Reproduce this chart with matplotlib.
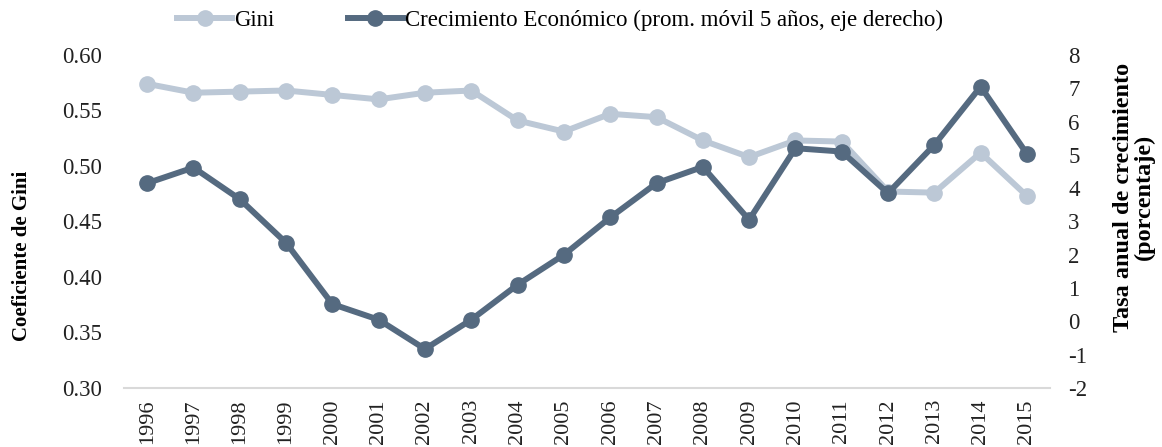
import matplotlib
matplotlib.use('Agg')

import matplotlib.pyplot as plt

# Datos
anios = [str(a) for a in range(1996, 2016)]
gini = [0.574, 0.566, 0.567, 0.568, 0.564, 0.560, 0.566, 0.568, 0.541, 0.531,
        0.547, 0.544, 0.523, 0.508, 0.523, 0.522, 0.477, 0.476, 0.512, 0.473]
crecimiento = [4.15, 4.62, 3.67, 2.36, 0.52, 0.05, -0.83, 0.05, 1.1, 2.0,
               3.12, 4.15, 4.64, 3.05, 5.2, 5.1, 3.85, 5.3, 7.05, 5.03]

gini_ticks = [0.30, 0.35, 0.40, 0.45, 0.50, 0.55, 0.60]
crec_ticks = list(range(-2, 9))

COLOR_GINI = '#BCC8D6'
COLOR_CREC = '#556A80'

plt.rcParams['font.family'] = ['Liberation Serif', 'DejaVu Serif']

fig = plt.figure(figsize=(11.62, 4.47), dpi=100)
ax = fig.add_axes([0.1067, 0.132, 0.797, 0.745])
ax2 = ax.twinx()

x = list(range(len(anios)))
l1, = ax.plot(x, gini, color=COLOR_GINI, lw=4.3, marker='o', ms=11, label='Gini', zorder=3)
l2, = ax2.plot(x, crecimiento, color=COLOR_CREC, lw=4.3, marker='o', ms=11,
               label='Crecimiento Económico (prom. móvil 5 años, eje derecho)', zorder=3)

ax.set_xlim(-0.5, len(anios) - 0.5)
ax.set_ylim(0.30, 0.60)
ax2.set_ylim(-2, 8)
ax.set_yticks(gini_ticks)
ax.set_yticklabels([f'{v:.2f}' for v in gini_ticks])
ax2.set_yticks(crec_ticks)
ax2.set_yticklabels([str(v) for v in crec_ticks])
ax.set_xticks(x)
ax.set_xticklabels(anios, rotation=90)

for a in (ax, ax2):
    for s in a.spines.values():
        s.set_visible(False)
    a.tick_params(length=0, labelsize=16.5, colors='#222222')
ax2.spines['bottom'].set_visible(True)
ax2.spines['bottom'].set_color('#D9D9D9')
ax2.spines['bottom'].set_linewidth(1.5)
ax.tick_params(axis='y', pad=15.5)
ax.tick_params(axis='x', pad=8, labelsize=16)
ax2.tick_params(axis='y', pad=13)

fig.text(0.019, 0.427, 'Coeficiente de Gini', fontsize=15, fontweight='bold',
         rotation=90, ha='center', va='center')
fig.text(0.976, 0.559, 'Tasa anual de crecimiento\n(porcentaje)', fontsize=17.5,
         fontweight='bold', rotation=90, ha='center', va='center', linespacing=1.0)

fig.legend(handles=[l1, l2], loc='upper center', bbox_to_anchor=(0.482, 1.025), ncol=2,
           frameon=False, fontsize=16.5, handlelength=2.4, handletextpad=0.1, columnspacing=3.2)

plt.savefig('out.png', dpi=100)
